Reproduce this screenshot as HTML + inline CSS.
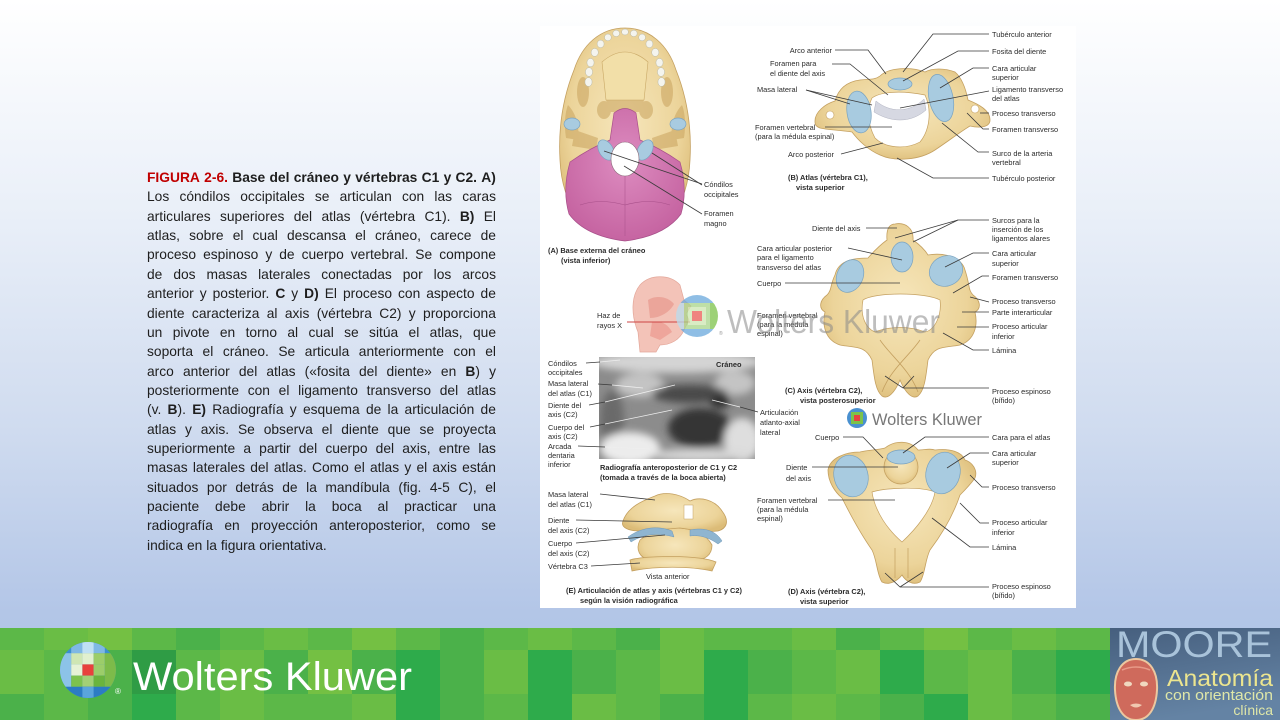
<!DOCTYPE html>
<html><head><meta charset="utf-8">
<style>
html,body{margin:0;padding:0;}
body{width:1280px;height:720px;overflow:hidden;position:relative;background:linear-gradient(180deg,#ffffff 0%,#e9eff8 30%,#cfdbef 60%,#b3c6e7 85%,#aec3e5 100%);font-family:"Liberation Sans",Arial,sans-serif;}
#txt{position:absolute;left:147px;top:168px;width:349px;font-size:13.8px;color:#1e1e1e;}
.l{display:flex;justify-content:space-between;height:19.37px;line-height:19.37px;white-space:nowrap;}
.l.last{justify-content:flex-start;}
.l.last span{margin-right:3.9px;}
.r{color:#c00000;font-weight:bold;}
.bb{font-weight:bold;}
svg{position:absolute;left:0;top:0;}
</style></head><body>

<div id="txt">
<div class="l"><span class="r">FIGURA</span><span class="r">2-6.</span><span class="bb">Base</span><span class="bb">del</span><span class="bb">cráneo</span><span class="bb">y</span><span class="bb">vértebras</span><span class="bb">C1</span><span class="bb">y</span><span class="bb">C2.</span><span class="bb">A)</span></div>
<div class="l"><span>Los</span><span>cóndilos</span><span>occipitales</span><span>se</span><span>articulan</span><span>con</span><span>las</span><span>caras</span></div>
<div class="l"><span>articulares</span><span>superiores</span><span>del</span><span>atlas</span><span>(vértebra</span><span>C1).</span><span class="bb">B)</span><span>El</span></div>
<div class="l"><span>atlas,</span><span>sobre</span><span>el</span><span>cual</span><span>descansa</span><span>el</span><span>cráneo,</span><span>carece</span><span>de</span></div>
<div class="l"><span>proceso</span><span>espinoso</span><span>y</span><span>de</span><span>cuerpo</span><span>vertebral.</span><span>Se</span><span>compone</span></div>
<div class="l"><span>de</span><span>dos</span><span>masas</span><span>laterales</span><span>conectadas</span><span>por</span><span>los</span><span>arcos</span></div>
<div class="l"><span>anterior</span><span>y</span><span>posterior.</span><span class="bb">C</span><span>y</span><span class="bb">D)</span><span>El</span><span>proceso</span><span>con</span><span>aspecto</span><span>de</span></div>
<div class="l"><span>diente</span><span>caracteriza</span><span>al</span><span>axis</span><span>(vértebra</span><span>C2)</span><span>y</span><span>proporciona</span></div>
<div class="l"><span>un</span><span>pivote</span><span>en</span><span>torno</span><span>al</span><span>cual</span><span>se</span><span>sitúa</span><span>el</span><span>atlas,</span><span>que</span></div>
<div class="l"><span>soporta</span><span>el</span><span>cráneo.</span><span>Se</span><span>articula</span><span>anteriormente</span><span>con</span><span>el</span></div>
<div class="l"><span>arco</span><span>anterior</span><span>del</span><span>atlas</span><span>(«fosita</span><span>del</span><span>diente»</span><span>en</span><span><b>B</b>)</span><span>y</span></div>
<div class="l"><span>posteriormente</span><span>con</span><span>el</span><span>ligamento</span><span>transverso</span><span>del</span><span>atlas</span></div>
<div class="l"><span>(v.</span><span><b>B</b>).</span><span class="bb">E)</span><span>Radiografía</span><span>y</span><span>esquema</span><span>de</span><span>la</span><span>articulación</span><span>de</span></div>
<div class="l"><span>atlas</span><span>y</span><span>axis.</span><span>Se</span><span>observa</span><span>el</span><span>diente</span><span>que</span><span>se</span><span>proyecta</span></div>
<div class="l"><span>superiormente</span><span>a</span><span>partir</span><span>del</span><span>cuerpo</span><span>del</span><span>axis,</span><span>entre</span><span>las</span></div>
<div class="l"><span>masas</span><span>laterales</span><span>del</span><span>atlas.</span><span>Como</span><span>el</span><span>atlas</span><span>y</span><span>el</span><span>axis</span><span>están</span></div>
<div class="l"><span>situados</span><span>por</span><span>detrás</span><span>de</span><span>la</span><span>mandíbula</span><span>(fig.</span><span>4-5</span><span>C),</span><span>el</span></div>
<div class="l"><span>paciente</span><span>debe</span><span>abrir</span><span>la</span><span>boca</span><span>al</span><span>practicar</span><span>una</span></div>
<div class="l"><span>radiografía</span><span>en</span><span>proyección</span><span>anteroposterior,</span><span>como</span><span>se</span></div>
<div class="l last"><span>indica</span><span>en</span><span>la</span><span>figura</span><span>orientativa.</span></div>
</div>

<svg width="1280" height="720" viewBox="0 0 1280 720" xmlns="http://www.w3.org/2000/svg">
<defs>
<radialGradient id="bone" cx="50%" cy="45%" r="60%">
<stop offset="0%" stop-color="#f6e6bb"/><stop offset="70%" stop-color="#ecd49a"/><stop offset="100%" stop-color="#dcbc78"/>
</radialGradient>
<radialGradient id="pink" cx="50%" cy="40%" r="65%">
<stop offset="0%" stop-color="#dd8cc0"/><stop offset="100%" stop-color="#c4619f"/>
</radialGradient>
<linearGradient id="moore" x1="0" y1="0" x2="0.3" y2="1">
<stop offset="0%" stop-color="#465f7e"/><stop offset="100%" stop-color="#6483a4"/>
</linearGradient>
<filter id="blur" x="-10%" y="-10%" width="120%" height="120%"><feGaussianBlur stdDeviation="4"/></filter>
<clipPath id="xr"><rect x="599" y="357" width="156" height="102"/></clipPath>
<clipPath id="wk1"><circle cx="88" cy="670" r="28"/></clipPath>
<clipPath id="wk2"><circle cx="697" cy="316" r="21"/></clipPath>
<clipPath id="wk3"><circle cx="857" cy="418" r="10"/></clipPath>
<style>
.t{font-family:"Liberation Sans",Arial,sans-serif;font-size:7.4px;fill:#2b2b2b;}
.tb{font-family:"Liberation Sans",Arial,sans-serif;font-size:7.4px;font-weight:bold;fill:#2b2b2b;}
.ln{stroke:#3a3a3a;stroke-width:0.8;fill:none;}
.bn{fill:url(#bone);stroke:#c4a060;stroke-width:0.8;}
.bl{fill:#a8cbe0;stroke:#7aa3c0;stroke-width:0.7;}
</style>
</defs>

<!-- figure panel -->
<rect x="540" y="26" width="536" height="582" fill="#ffffff"/>

<!-- A skull -->
<path class="bn" d="M625,28 C650,28 668,45 676,70 C686,95 692,125 690,160 C688,205 665,238 625,240 C585,238 562,205 560,160 C558,125 564,95 574,70 C582,45 600,28 625,28 Z"/>
<path d="M602,62 Q625,42 648,62 L644,100 L606,100 Z" fill="#f2dfa8" stroke="#c9a866" stroke-width="0.6"/>
<g fill="#c9a35e" opacity="0.55">
<ellipse cx="583" cy="92" rx="6" ry="15"/><ellipse cx="667" cy="92" rx="6" ry="15"/>
<ellipse cx="604" cy="110" rx="7" ry="9"/><ellipse cx="646" cy="110" rx="7" ry="9"/>
<path d="M575,130 L598,138 L596,150 L572,146 Z"/><path d="M675,130 L652,138 L654,150 L678,146 Z"/>
<path d="M606,100 L644,100 L640,112 L610,112 Z"/>
<path d="M568,105 C575,112 580,125 578,140 L566,138 C564,125 565,112 568,105 Z"/>
<path d="M682,105 C675,112 670,125 672,140 L684,138 C686,125 685,112 682,105 Z"/>
</g>
<g fill="#f4f4ee" stroke="#b9b9a8" stroke-width="0.5">
<ellipse cx="588.5" cy="82" rx="3.6" ry="4.4"/><ellipse cx="589" cy="72" rx="3.6" ry="4.4"/><ellipse cx="590.5" cy="62.6" rx="3.6" ry="4.2"/><ellipse cx="594.7" cy="52.4" rx="3.6" ry="4"/><ellipse cx="600.6" cy="43.9" rx="3.5" ry="3.8"/><ellipse cx="607.9" cy="37.4" rx="3.4" ry="3.4"/><ellipse cx="616.2" cy="33.4" rx="3.4" ry="3.2"/><ellipse cx="625" cy="32" rx="3.4" ry="3"/><ellipse cx="633.8" cy="33.4" rx="3.4" ry="3.2"/><ellipse cx="642.1" cy="37.4" rx="3.4" ry="3.4"/><ellipse cx="649.4" cy="43.9" rx="3.5" ry="3.8"/><ellipse cx="655.3" cy="52.4" rx="3.6" ry="4"/><ellipse cx="659.5" cy="62.6" rx="3.6" ry="4.2"/><ellipse cx="661" cy="72" rx="3.6" ry="4.4"/><ellipse cx="661.5" cy="82" rx="3.6" ry="4.4"/>
</g>
<path d="M614,113 Q625,104 636,113 L640,140 Q660,148 680,162 Q688,190 681,214 Q665,236 625,241 Q585,236 569,214 Q562,190 570,162 Q590,148 610,140 Z" fill="url(#pink)" stroke="#a8508a" stroke-width="0.7"/>
<path d="M580,205 Q600,198 625,205 Q650,198 670,205" fill="none" stroke="#a8508a" stroke-width="0.6"/>
<path d="M625,176 L625,236" fill="none" stroke="#a8508a" stroke-width="0.5"/>
<ellipse cx="572" cy="124" rx="8" ry="6" class="bl"/>
<ellipse cx="678" cy="124" rx="8" ry="6" class="bl"/>
<ellipse cx="606" cy="150" rx="7" ry="11" transform="rotate(-30 606 150)" class="bl"/>
<ellipse cx="645" cy="150" rx="7" ry="11" transform="rotate(30 645 150)" class="bl"/>
<ellipse cx="625" cy="159" rx="14" ry="17" fill="#ffffff" stroke="#8a6a7a" stroke-width="0.6"/>
<polyline class="ln" points="702,184 604,151"/>
<polyline class="ln" points="702,185 652,153"/>
<polyline class="ln" points="702,214 624,166"/>
<text class="t" x="704" y="187">Cóndilos</text>
<text class="t" x="704" y="197">occipitales</text>
<text class="t" x="704" y="216">Foramen</text>
<text class="t" x="704" y="226">magno</text>
<text class="tb" x="548" y="253">(A) Base externa del cráneo</text>
<text class="tb" x="561" y="263">(vista inferior)</text>

<!-- B atlas -->
<path class="bn" d="M815,121 C815,112 825,104 835,101 C838,90 845,82 860,80 C868,79 875,80 880,76 C888,68 910,66 925,72 C932,68 945,68 955,72 C962,78 966,90 968,100 C978,104 990,110 990,120 C990,128 978,128 970,126 C960,132 950,140 935,150 C920,160 895,162 880,155 C868,150 858,140 852,132 C840,130 828,130 820,128 C815,126 815,124 815,121 Z"/>
<path d="M872,98 C880,92 900,90 925,95 C932,110 930,130 920,142 C905,150 885,148 875,138 C868,125 866,110 872,98 Z" fill="#ffffff" stroke="#c4a060" stroke-width="0.7"/>
<path d="M876,101 C890,113 910,113 924,99 L926,110 C910,124 890,122 874,112 Z" fill="#d6d8e2" stroke="#b0b2c0" stroke-width="0.5"/>
<ellipse cx="900" cy="84" rx="12" ry="6" class="bl"/>
<ellipse cx="859" cy="112" rx="12" ry="21" transform="rotate(-8 859 112)" class="bl"/>
<ellipse cx="941" cy="98" rx="12" ry="24" transform="rotate(-12 941 98)" class="bl"/>
<ellipse cx="830" cy="115" rx="4" ry="4" fill="#fff" stroke="#c4a060" stroke-width="0.6"/>
<ellipse cx="975" cy="109" rx="4" ry="4" fill="#fff" stroke="#c4a060" stroke-width="0.6"/>
<polyline class="ln" points="835,50 868,50 886,74"/>
<polyline class="ln" points="832,64 850,64 888,95"/>
<polyline class="ln" points="806,90 850,104"/>
<polyline class="ln" points="806,90 872,105"/>
<polyline class="ln" points="825,127 892,127"/>
<polyline class="ln" points="841,154 883,143"/>
<polyline class="ln" points="989,34 933,34 903,72"/>
<polyline class="ln" points="989,51 958,51 903,81"/>
<polyline class="ln" points="989,68 973,68 940,88"/>
<polyline class="ln" points="989,91 900,108"/>
<polyline class="ln" points="989,113 980,113"/>
<polyline class="ln" points="989,129 983,129 967,113"/>
<polyline class="ln" points="989,152 978,152 942,123"/>
<polyline class="ln" points="989,178 933,178 897,158"/>
<text class="t" x="832" y="53" text-anchor="end">Arco anterior</text>
<text class="t" x="770" y="66">Foramen para</text>
<text class="t" x="770" y="76">el diente del axis</text>
<text class="t" x="757" y="92">Masa lateral</text>
<text class="t" x="755" y="130">Foramen vertebral</text>
<text class="t" x="755" y="139">(para la médula espinal)</text>
<text class="t" x="788" y="157">Arco posterior</text>
<text class="tb" x="788" y="180">(B) Atlas (vértebra C1),</text>
<text class="tb" x="796" y="190">vista superior</text>
<text class="t" x="992" y="37">Tubérculo anterior</text>
<text class="t" x="992" y="54">Fosita del diente</text>
<text class="t" x="992" y="71">Cara articular</text>
<text class="t" x="992" y="80">superior</text>
<text class="t" x="992" y="92">Ligamento transverso</text>
<text class="t" x="992" y="101">del atlas</text>
<text class="t" x="992" y="116">Proceso transverso</text>
<text class="t" x="992" y="132">Foramen transverso</text>
<text class="t" x="992" y="156">Surco de la arteria</text>
<text class="t" x="992" y="165">vertebral</text>
<text class="t" x="992" y="181">Tubérculo posterior</text>

<!-- C axis posterosuperior -->
<path class="bn" d="M895,224 C905,222 914,228 913,240 C920,245 925,250 928,255 C945,252 962,258 965,270 C970,285 968,290 973,295 C980,300 982,308 975,312 C978,325 975,340 960,345 C945,348 935,345 928,360 C926,375 925,390 918,396 C912,400 905,392 900,380 C895,392 888,400 882,396 C875,390 874,375 872,360 C865,345 855,348 840,345 C825,340 822,325 825,312 C818,308 820,300 827,295 C832,290 830,285 835,275 C838,262 850,258 868,258 C875,250 880,245 887,240 C886,228 890,224 895,224 Z"/>
<path d="M863,300 C875,292 925,292 940,300 C942,315 935,330 925,332 C910,326 890,326 875,332 C865,328 860,315 863,300 Z" fill="#ffffff" stroke="#c4a060" stroke-width="0.7"/>
<path d="M880,340 C890,355 910,370 918,392 M920,340 C910,355 890,370 882,392" fill="none" stroke="#c4a060" stroke-width="0.8"/>
<ellipse cx="902" cy="257" rx="11" ry="15" class="bl"/>
<ellipse cx="850" cy="276" rx="13" ry="17" transform="rotate(25 850 276)" class="bl"/>
<ellipse cx="946" cy="271" rx="17" ry="15" transform="rotate(-25 946 271)" class="bl"/>
<polyline class="ln" points="866,228 897,228"/>
<polyline class="ln" points="848,248 902,260"/>
<polyline class="ln" points="785,283 900,283"/>
<polyline class="ln" points="989,220 958,220 895,238"/>
<polyline class="ln" points="958,220 913,242"/>
<polyline class="ln" points="989,253 973,253 945,267"/>
<polyline class="ln" points="989,276 982,276 953,293"/>
<polyline class="ln" points="989,302 970,297"/>
<polyline class="ln" points="989,312 962,312"/>
<polyline class="ln" points="989,327 957,327"/>
<polyline class="ln" points="989,350 973,350 943,333"/>
<polyline class="ln" points="989,388 903,388 885,376"/>
<polyline class="ln" points="903,388 914,376"/>
<text class="t" x="812" y="231">Diente del axis</text>
<text class="t" x="757" y="251">Cara articular posterior</text>
<text class="t" x="757" y="260">para el ligamento</text>
<text class="t" x="757" y="270">transverso del atlas</text>
<text class="t" x="757" y="286">Cuerpo</text>
<text class="t" x="757" y="318">Foramen vertebral</text>
<text class="t" x="757" y="327">(para la médula</text>
<text class="t" x="757" y="336">espinal)</text>
<text class="tb" x="785" y="393">(C) Axis (vértebra C2),</text>
<text class="tb" x="800" y="403">vista posterosuperior</text>
<text class="t" x="992" y="223">Surcos para la</text>
<text class="t" x="992" y="232">inserción de los</text>
<text class="t" x="992" y="241">ligamentos alares</text>
<text class="t" x="992" y="256">Cara articular</text>
<text class="t" x="992" y="266">superior</text>
<text class="t" x="992" y="280">Foramen transverso</text>
<text class="t" x="992" y="304">Proceso transverso</text>
<text class="t" x="992" y="315">Parte interarticular</text>
<text class="t" x="992" y="329">Proceso articular</text>
<text class="t" x="992" y="339">inferior</text>
<text class="t" x="992" y="353">Lámina</text>
<text class="t" x="992" y="394">Proceso espinoso</text>
<text class="t" x="992" y="403">(bífido)</text>

<!-- head / x-ray beam -->
<path d="M640,285 C650,274 670,274 680,285 L684,300 L691,306 L686,314 L689,320 L684,330 C680,340 670,345 660,345 L656,352 L640,352 L638,332 C631,315 631,296 640,285 Z" fill="#f3c3b8" stroke="#e3a79a" stroke-width="0.7"/>
<path d="M648,300 C655,295 668,296 674,304 C670,312 660,318 650,318 Z" fill="#e99d92" opacity="0.8"/>
<path d="M652,322 C660,320 668,324 672,332 L660,340 L650,336 Z" fill="#ec9e94" opacity="0.8"/>
<polyline points="627,322 690,322" stroke="#c44" stroke-width="0.9" fill="none"/>
<text class="t" x="597" y="318">Haz de</text>
<text class="t" x="597" y="328">rayos X</text>

<!-- watermark 1 -->
<g clip-path="url(#wk2)" opacity="0.75">
<rect x="676" y="295" width="42" height="42" fill="#6aa8dc"/>
<rect x="684" y="303" width="26" height="26" fill="#a8d58a"/>
<rect x="676" y="303" width="8" height="26" fill="#b8dcef"/>
<rect x="710" y="303" width="8" height="26" fill="#7cc24a"/>
<rect x="688" y="307" width="18" height="18" fill="#cde6b0"/>
<rect x="692" y="311" width="10" height="10" fill="#ea5a55"/>
</g>
<text x="719" y="335" font-family="Liberation Sans,Arial,sans-serif" font-size="5" fill="#999">®</text>
<text x="727" y="333" font-family="Liberation Sans,Arial,sans-serif" font-size="33" fill="#8a8a8a" opacity="0.55" textLength="213" lengthAdjust="spacingAndGlyphs">Wolters Kluwer</text>

<!-- X-ray -->
<rect x="599" y="357" width="156" height="102" fill="#8c8c8c"/>
<g clip-path="url(#xr)"><g filter="url(#blur)">
<ellipse cx="677" cy="362" rx="85" ry="11" fill="#d4d4d4"/>
<ellipse cx="640" cy="385" rx="24" ry="12" fill="#c4c4c4"/>
<ellipse cx="735" cy="383" rx="20" ry="12" fill="#c4c4c4"/>
<ellipse cx="690" cy="394" rx="38" ry="9" fill="#4a4a4a"/>
<ellipse cx="700" cy="428" rx="32" ry="20" fill="#363636"/>
<ellipse cx="612" cy="420" rx="12" ry="30" fill="#6a6a6a"/>
<ellipse cx="630" cy="448" rx="30" ry="16" fill="#ececec"/>
<ellipse cx="742" cy="440" rx="18" ry="22" fill="#dedede"/>
<ellipse cx="700" cy="455" rx="50" ry="6" fill="#d8d8d8"/>
<ellipse cx="720" cy="402" rx="10" ry="6" fill="#2a2a2a"/>
</g></g>
<text class="tb" x="716" y="367">Cráneo</text>
<polyline class="ln" points="586,363 600,362"/>
<polyline points="600,362 620,360" stroke="#eee" stroke-width="0.8" fill="none"/>
<polyline class="ln" points="598,384 612,385"/>
<polyline points="612,385 643,388" stroke="#eee" stroke-width="0.8" fill="none"/>
<polyline class="ln" points="589,405 605,402"/>
<polyline points="605,402 675,385" stroke="#eee" stroke-width="0.8" fill="none"/>
<polyline class="ln" points="590,427 605,424"/>
<polyline points="605,424 672,410" stroke="#eee" stroke-width="0.8" fill="none"/>
<polyline class="ln" points="578,446 605,447"/>
<polyline points="605,447 650,449" stroke="#eee" stroke-width="0.8" fill="none"/>
<polyline class="ln" points="758,412 740,407"/>
<polyline points="740,407 712,400" stroke="#eee" stroke-width="0.8" fill="none"/>
<text class="t" x="548" y="366">Cóndilos</text>
<text class="t" x="548" y="375">occipitales</text>
<text class="t" x="548" y="386">Masa lateral</text>
<text class="t" x="548" y="396">del atlas (C1)</text>
<text class="t" x="548" y="408">Diente del</text>
<text class="t" x="548" y="417">axis (C2)</text>
<text class="t" x="548" y="430">Cuerpo del</text>
<text class="t" x="548" y="439">axis (C2)</text>
<text class="t" x="548" y="449">Arcada</text>
<text class="t" x="548" y="458">dentaria</text>
<text class="t" x="548" y="467">inferior</text>
<text class="tb" x="600" y="470">Radiografía anteroposterior de C1 y C2</text>
<text class="tb" x="600" y="480">(tomada a través de la boca abierta)</text>
<text class="t" x="760" y="415">Articulación</text>
<text class="t" x="760" y="425">atlanto-axial</text>
<text class="t" x="760" y="435">lateral</text>

<!-- watermark 2 -->
<g clip-path="url(#wk3)">
<rect x="847" y="408" width="20" height="20" fill="#4a90d0"/>
<rect x="851" y="412" width="12" height="12" fill="#7cc24a"/>
<rect x="854" y="415" width="6" height="6" fill="#e84040"/>
</g>
<text x="872" y="425" font-family="Liberation Sans,Arial,sans-serif" font-size="17" fill="#777" textLength="110" lengthAdjust="spacingAndGlyphs">Wolters Kluwer</text>

<!-- E anterior view -->
<path class="bn" d="M640,540 C650,532 660,528 675,528 C690,528 705,532 712,545 C712,555 705,560 695,560 C690,568 660,568 650,560 C640,558 635,550 640,540 Z"/>
<path class="bn" d="M630,560 C645,555 700,555 716,562 L712,571 C690,566 655,566 632,571 Z"/>
<path class="bn" d="M623,521 C628,506 645,500 655,496 C665,491 680,494 690,501 C700,496 715,500 722,511 C729,520 728,528 718,531 C700,533 690,529 680,528 C665,529 650,531 640,531 C630,531 620,528 623,521 Z"/>
<path d="M628,537 C643,526 660,526 672,531 L674,537 C660,533 645,533 631,542 Z" fill="#8fb5d0" stroke="#6f98b8" stroke-width="0.5"/>
<path d="M690,530 C705,527 716,531 722,541 L718,544 C707,536 697,535 690,536 Z" fill="#8fb5d0" stroke="#6f98b8" stroke-width="0.5"/>
<rect x="684" y="505" width="9" height="14" fill="#fff" stroke="#c4a060" stroke-width="0.5"/>
<polyline class="ln" points="600,494 655,500"/>
<polyline class="ln" points="576,520 672,522"/>
<polyline class="ln" points="576,543 665,535"/>
<polyline class="ln" points="591,566 640,563"/>
<text class="t" x="548" y="497">Masa lateral</text>
<text class="t" x="548" y="507">del atlas (C1)</text>
<text class="t" x="548" y="523">Diente</text>
<text class="t" x="548" y="533">del axis (C2)</text>
<text class="t" x="548" y="546">Cuerpo</text>
<text class="t" x="548" y="556">del axis (C2)</text>
<text class="t" x="548" y="569">Vértebra C3</text>
<text class="t" x="646" y="579">Vista anterior</text>
<text class="tb" x="566" y="593">(E) Articulación de atlas y axis (vértebras C1 y C2)</text>
<text class="tb" x="580" y="603">según la visión radiográfica</text>

<!-- D axis superior -->
<path class="bn" d="M885,448 C895,440 910,440 918,450 C925,450 930,448 935,450 C950,448 962,452 965,460 C972,462 978,470 975,478 C970,485 965,490 960,495 C955,510 945,530 930,550 C925,560 925,575 920,582 C912,586 905,580 902,575 C898,580 890,586 882,582 C877,575 877,560 872,550 C858,530 848,510 842,498 C835,492 828,482 828,470 C830,458 845,452 860,452 C868,450 878,450 885,448 Z"/>
<path d="M872,492 C885,488 920,486 935,492 C932,510 915,530 902,542 C888,530 875,512 872,492 Z" fill="#ffffff" stroke="#c4a060" stroke-width="0.7"/>
<path d="M895,548 L895,578 M908,548 L908,578" stroke="#c4a060" stroke-width="0.7" fill="none"/>
<circle cx="901" cy="467" r="17" class="bn"/>
<ellipse cx="901" cy="457" rx="14" ry="7" class="bl"/>
<ellipse cx="851" cy="476" rx="17" ry="21" transform="rotate(-15 851 476)" class="bl"/>
<ellipse cx="943" cy="473" rx="17" ry="21" transform="rotate(15 943 473)" class="bl"/>
<polyline class="ln" points="843,437 863,437 883,458"/>
<polyline class="ln" points="812,467 898,467"/>
<polyline class="ln" points="828,500 895,500"/>
<polyline class="ln" points="989,437 925,437 903,453"/>
<polyline class="ln" points="989,453 970,453 947,468"/>
<polyline class="ln" points="989,487 982,487 970,475"/>
<polyline class="ln" points="989,523 980,523 960,503"/>
<polyline class="ln" points="989,547 970,547 932,518"/>
<polyline class="ln" points="989,587 900,587 885,573"/>
<polyline class="ln" points="900,587 923,572"/>
<text class="t" x="815" y="440">Cuerpo</text>
<text class="t" x="786" y="470">Diente</text>
<text class="t" x="786" y="481">del axis</text>
<text class="t" x="757" y="503">Foramen vertebral</text>
<text class="t" x="757" y="512">(para la médula</text>
<text class="t" x="757" y="521">espinal)</text>
<text class="tb" x="788" y="594">(D) Axis (vértebra C2),</text>
<text class="tb" x="800" y="604">vista superior</text>
<text class="t" x="992" y="440">Cara para el atlas</text>
<text class="t" x="992" y="456">Cara articular</text>
<text class="t" x="992" y="465">superior</text>
<text class="t" x="992" y="490">Proceso transverso</text>
<text class="t" x="992" y="525">Proceso articular</text>
<text class="t" x="992" y="535">inferior</text>
<text class="t" x="992" y="550">Lámina</text>
<text class="t" x="992" y="589">Proceso espinoso</text>
<text class="t" x="992" y="598">(bífido)</text>

<!-- green band -->
<g transform="translate(0,628)">
<rect x="0" y="0" width="1110" height="92" fill="#5cb848"/>
<g>
<rect x="0" y="0" width="44" height="22" fill="#5cb848"/><rect x="44" y="0" width="44" height="22" fill="#6abd45"/><rect x="88" y="0" width="44" height="22" fill="#74c043"/><rect x="132" y="0" width="44" height="22" fill="#5cb848"/><rect x="176" y="0" width="44" height="22" fill="#4bb14a"/><rect x="220" y="0" width="44" height="22" fill="#5cb848"/><rect x="264" y="0" width="44" height="22" fill="#6abd45"/><rect x="308" y="0" width="44" height="22" fill="#5cb848"/><rect x="352" y="0" width="44" height="22" fill="#74c043"/><rect x="396" y="0" width="44" height="22" fill="#5cb848"/><rect x="440" y="0" width="44" height="22" fill="#4bb14a"/><rect x="484" y="0" width="44" height="22" fill="#5cb848"/><rect x="528" y="0" width="44" height="22" fill="#6abd45"/><rect x="572" y="0" width="44" height="22" fill="#5cb848"/><rect x="616" y="0" width="44" height="22" fill="#4bb14a"/><rect x="660" y="0" width="44" height="22" fill="#6abd45"/><rect x="704" y="0" width="44" height="22" fill="#5cb848"/><rect x="748" y="0" width="44" height="22" fill="#5cb848"/><rect x="792" y="0" width="44" height="22" fill="#6abd45"/><rect x="836" y="0" width="44" height="22" fill="#4bb14a"/><rect x="880" y="0" width="44" height="22" fill="#5cb848"/><rect x="924" y="0" width="44" height="22" fill="#74c043"/><rect x="968" y="0" width="44" height="22" fill="#5cb848"/><rect x="1012" y="0" width="44" height="22" fill="#6abd45"/><rect x="1056" y="0" width="54" height="22" fill="#5cb848"/>
</g>
<g>
<rect x="0" y="22" width="44" height="44" fill="#6abd45"/><rect x="44" y="22" width="44" height="44" fill="#5cb848"/><rect x="88" y="22" width="44" height="44" fill="#4bb14a"/><rect x="132" y="22" width="44" height="44" fill="#2f9c45"/><rect x="176" y="22" width="44" height="44" fill="#5cb848"/><rect x="220" y="22" width="44" height="44" fill="#6abd45"/><rect x="264" y="22" width="44" height="44" fill="#4bb14a"/><rect x="308" y="22" width="44" height="44" fill="#74c043"/><rect x="352" y="22" width="44" height="44" fill="#4bb14a"/><rect x="396" y="22" width="44" height="44" fill="#2eab4b"/><rect x="440" y="22" width="44" height="44" fill="#4bb14a"/><rect x="484" y="22" width="44" height="44" fill="#6abd45"/><rect x="528" y="22" width="44" height="44" fill="#2eab4b"/><rect x="572" y="22" width="44" height="44" fill="#4bb14a"/><rect x="616" y="22" width="44" height="44" fill="#5cb848"/><rect x="660" y="22" width="44" height="44" fill="#6abd45"/><rect x="704" y="22" width="44" height="44" fill="#2eab4b"/><rect x="748" y="22" width="44" height="44" fill="#4bb14a"/><rect x="792" y="22" width="44" height="44" fill="#5cb848"/><rect x="836" y="22" width="44" height="44" fill="#6abd45"/><rect x="880" y="22" width="44" height="44" fill="#2eab4b"/><rect x="924" y="22" width="44" height="44" fill="#5cb848"/><rect x="968" y="22" width="44" height="44" fill="#6abd45"/><rect x="1012" y="22" width="44" height="44" fill="#4bb14a"/><rect x="1056" y="22" width="54" height="44" fill="#2eab4b"/>
</g>
<g>
<rect x="0" y="66" width="44" height="26" fill="#4bb14a"/><rect x="44" y="66" width="44" height="26" fill="#5cb848"/><rect x="88" y="66" width="44" height="26" fill="#4bb14a"/><rect x="132" y="66" width="44" height="26" fill="#2eab4b"/><rect x="176" y="66" width="44" height="26" fill="#5cb848"/><rect x="220" y="66" width="44" height="26" fill="#6abd45"/><rect x="264" y="66" width="44" height="26" fill="#5cb848"/><rect x="308" y="66" width="44" height="26" fill="#5cb848"/><rect x="352" y="66" width="44" height="26" fill="#6abd45"/><rect x="396" y="66" width="44" height="26" fill="#2eab4b"/><rect x="440" y="66" width="44" height="26" fill="#4bb14a"/><rect x="484" y="66" width="44" height="26" fill="#5cb848"/><rect x="528" y="66" width="44" height="26" fill="#2eab4b"/><rect x="572" y="66" width="44" height="26" fill="#6abd45"/><rect x="616" y="66" width="44" height="26" fill="#5cb848"/><rect x="660" y="66" width="44" height="26" fill="#4bb14a"/><rect x="704" y="66" width="44" height="26" fill="#2eab4b"/><rect x="748" y="66" width="44" height="26" fill="#5cb848"/><rect x="792" y="66" width="44" height="26" fill="#6abd45"/><rect x="836" y="66" width="44" height="26" fill="#5cb848"/><rect x="880" y="66" width="44" height="26" fill="#4bb14a"/><rect x="924" y="66" width="44" height="26" fill="#2eab4b"/><rect x="968" y="66" width="44" height="26" fill="#6abd45"/><rect x="1012" y="66" width="44" height="26" fill="#5cb848"/><rect x="1056" y="66" width="54" height="26" fill="#4bb14a"/>
</g>
</g>

<!-- WK logo -->
<g clip-path="url(#wk1)">
<rect x="60" y="642" width="56" height="56" fill="#3a8fd0"/>
<rect x="60" y="653.2" width="11.2" height="33.6" fill="#8cc3e8"/>
<rect x="71.2" y="642" width="33.6" height="11.2" fill="#7fb8e4"/>
<rect x="82.4" y="642" width="11.2" height="11.2" fill="#bfe0f4"/>
<rect x="71.2" y="653.2" width="11.2" height="11.2" fill="#cfe6b4"/>
<rect x="82.4" y="653.2" width="11.2" height="11.2" fill="#e1f0cf"/>
<rect x="93.6" y="653.2" width="11.2" height="11.2" fill="#9ccd6a"/>
<rect x="71.2" y="664.4" width="11.2" height="11.2" fill="#e6f2d6"/>
<rect x="82.4" y="664.4" width="11.2" height="11.2" fill="#e8413c"/>
<rect x="93.6" y="664.4" width="11.2" height="11.2" fill="#9ccd6a"/>
<rect x="104.8" y="653.2" width="11.2" height="33.6" fill="#7dbb4a"/>
<rect x="71.2" y="675.6" width="11.2" height="11.2" fill="#7dc24e"/>
<rect x="82.4" y="675.6" width="11.2" height="11.2" fill="#a3d076"/>
<rect x="93.6" y="675.6" width="11.2" height="11.2" fill="#6ab43e"/>
<rect x="60" y="686.8" width="56" height="11.2" fill="#2c7cc4"/>
<rect x="82.4" y="686.8" width="11.2" height="11.2" fill="#5aa5dc"/>
</g>
<text x="115" y="694" font-family="Liberation Sans,Arial,sans-serif" font-size="8" fill="#ffffff">®</text>
<text x="133" y="690" font-family="Liberation Sans,Arial,sans-serif" font-size="40" fill="#ffffff" textLength="279" lengthAdjust="spacingAndGlyphs">Wolters Kluwer</text>

<!-- MOORE cover -->
<rect x="1110" y="628" width="170" height="92" fill="url(#moore)"/>
<text x="1116" y="657" font-family="Liberation Sans,Arial,sans-serif" font-size="37" fill="#a9c3da" textLength="156" lengthAdjust="spacingAndGlyphs">MOORE</text>
<path d="M1136,659 C1150,659 1158,672 1157,690 C1156,708 1149,720 1136,720 C1123,720 1116,708 1115,690 C1114,672 1122,659 1136,659 Z" fill="#cf6a5c" stroke="#ecc8a0" stroke-width="2"/>
<ellipse cx="1128" cy="684" rx="4" ry="2.5" fill="#f0d8c0"/>
<ellipse cx="1144" cy="684" rx="4" ry="2.5" fill="#f0d8c0"/>
<path d="M1130,705 Q1136,702 1142,705 Q1136,710 1130,705 Z" fill="#f0c8b0"/>
<path d="M1122,670 Q1136,664 1150,670" stroke="#e89a88" stroke-width="1.5" fill="none"/>
<text x="1167" y="686" font-family="Liberation Sans,Arial,sans-serif" font-size="23" fill="#ece58f" textLength="106" lengthAdjust="spacingAndGlyphs">Anatomía</text>
<text x="1165" y="700" font-family="Liberation Sans,Arial,sans-serif" font-size="14.5" fill="#dfe7a8" textLength="108" lengthAdjust="spacingAndGlyphs">con orientación</text>
<text x="1273" y="715" text-anchor="end" font-family="Liberation Sans,Arial,sans-serif" font-size="14" fill="#dfe7a8">clínica</text>
</svg>
</body></html>
